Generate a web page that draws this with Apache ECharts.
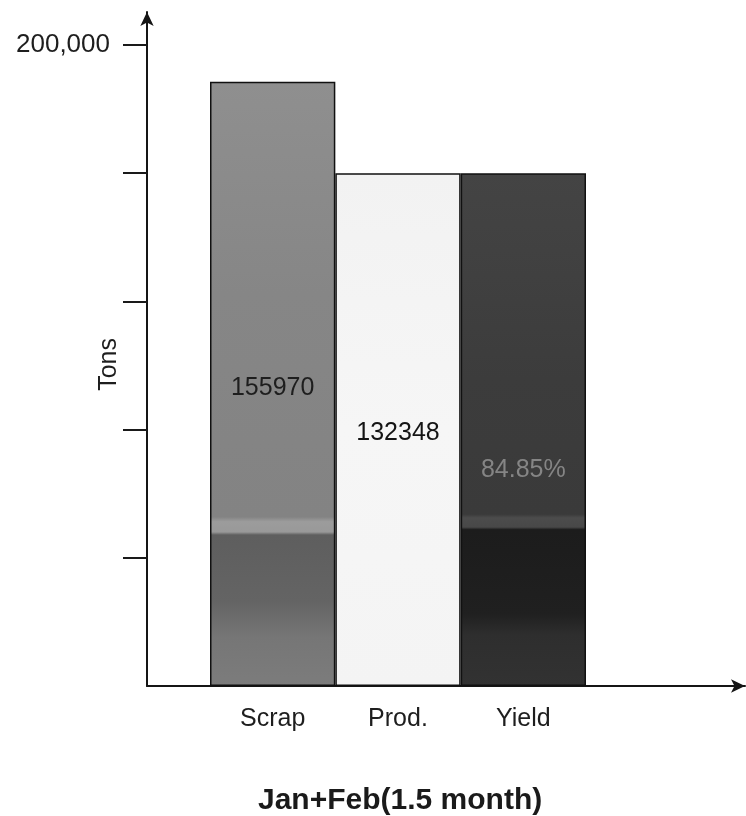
<!DOCTYPE html>
<html>
<head>
<meta charset="utf-8">
<script src="https://cdn.jsdelivr.net/npm/echarts@6/dist/echarts.min.js"></script>
<style>
  html, body { margin: 0; padding: 0; background: #ffffff; }
  #chart { width: 746px; height: 816px; }
</style>
</head>
<body>
<div id="chart"></div>
<script>
// Tonnage for Jan+Feb (1.5 month)
const categories = ['Scrap', 'Prod.', 'Yield'];
const scrapTons = 155970;
const prodTons = 132348;
const yieldPct = 84.85;

// Yield bar is drawn as the yielded share of the scrap input
const barValues = [scrapTons, prodTons, scrapTons * yieldPct / 100];
const barLabels = ['155970', '132348', '84.85%'];

// Vertical axis ticks
const yTickStep = 33100;
const yTickLabels = ['', '', '', '', '', '200,000'];
const yAxisTop = 174000;
const yAxisTitle = 'Tons';

const tickValues = yTickLabels.map((_, i) => i * yTickStep);
const labelledTicks = tickValues.filter((_, i) => yTickLabels[i] !== '');

const FONT = 'Liberation Sans, Arial, sans-serif';

function steppedFill(stops) {
  return {
    type: 'linear', x: 0, y: 0, x2: 0, y2: 1,
    colorStops: stops.map(([offset, color]) => ({ offset, color }))
  };
}

const barStyles = [
  {
    fill: steppedFill([[0, '#8f8f8f'], [0.35, '#868686'], [0.72, '#838383'], [0.728, '#9c9c9c'],
                       [0.745, '#999999'], [0.75, '#5e5e5e'], [0.86, '#646464'], [0.92, '#767676'], [1, '#7c7c7c']]),
    labelColor: '#1e1e1e', offset: [0, 4]
  },
  {
    fill: steppedFill([[0, '#f2f2f2'], [0.5, '#f6f6f6'], [1, '#f4f4f4']]),
    labelColor: '#141414', offset: [0, 3]
  },
  {
    fill: steppedFill([[0, '#444444'], [0.4, '#3c3c3c'], [0.665, '#3a3a3a'], [0.672, '#4c4c4c'],
                       [0.69, '#484848'], [0.695, '#1c1c1c'], [0.86, '#202020'], [0.9, '#2e2e2e'], [1, '#323232']]),
    labelColor: '#858585', offset: [0, 40]
  }
];

const chart = echarts.init(document.getElementById('chart'), null, { renderer: 'canvas' });

chart.setOption({
  backgroundColor: '#ffffff',
  animation: false,
  title: {
    text: 'Jan+Feb(1.5 month)',
    left: 253,
    top: 781,
    textStyle: { fontFamily: FONT, fontWeight: 'bold', fontSize: 30, color: '#1a1a1a' }
  },
  grid: [
    { left: 147, right: 1, top: 12, bottom: 130, outerBoundsMode: 'none', containLabel: false },
    { left: 210, right: 160, top: 12, bottom: 130, outerBoundsMode: 'none', containLabel: false }
  ],
  graphic: [
    {
      type: 'text',
      left: 97, top: 338,
      rotation: Math.PI / 2,
      style: { text: yAxisTitle, font: '25px ' + FONT, fill: '#1e1e1e' }
    }
  ],
  xAxis: [
    {
      gridIndex: 0, type: 'value', min: 0, max: 1,
      axisLine: { show: true, symbol: ['none', 'arrow'], symbolSize: [10, 14],
                  lineStyle: { color: '#151515', width: 2 } },
      axisTick: { show: false }, axisLabel: { show: false }, splitLine: { show: false }
    },
    {
      gridIndex: 1, type: 'category', data: categories,
      axisLine: { show: false }, axisTick: { show: false }, splitLine: { show: false },
      axisLabel: { margin: 21, fontFamily: FONT, fontSize: 25, color: '#1e1e1e' }
    }
  ],
  yAxis: [
    {
      gridIndex: 0, type: 'value', min: 0, max: yAxisTop, interval: yTickStep,
      axisLine: { show: true, symbol: ['none', 'arrow'], symbolSize: [10, 14],
                  lineStyle: { color: '#151515', width: 2 } },
      axisTick: { show: true, customValues: tickValues.slice(1), length: 24, inside: false,
                  lineStyle: { color: '#1a1a1a', width: 2 } },
      axisLabel: {
        customValues: labelledTicks, margin: 37,
        fontFamily: FONT, fontSize: 26, color: '#1e1e1e',
        formatter: (v) => yTickLabels[Math.round(v / yTickStep)] || ''
      },
      splitLine: { show: false }
    },
    {
      gridIndex: 1, type: 'value', min: 0, max: yAxisTop, show: false,
      splitLine: { show: false }
    }
  ],
  series: [
    {
      type: 'bar',
      xAxisIndex: 1, yAxisIndex: 1,
      barWidth: '100%',
      data: barValues.map((v, i) => ({
        value: v,
        itemStyle: { color: barStyles[i].fill, borderColor: '#111111', borderWidth: 1.5 },
        label: {
          show: true, position: 'inside', offset: barStyles[i].offset,
          formatter: barLabels[i],
          fontFamily: FONT, fontSize: 25, color: barStyles[i].labelColor
        }
      }))
    }
  ]
});
</script>
</body>
</html>
